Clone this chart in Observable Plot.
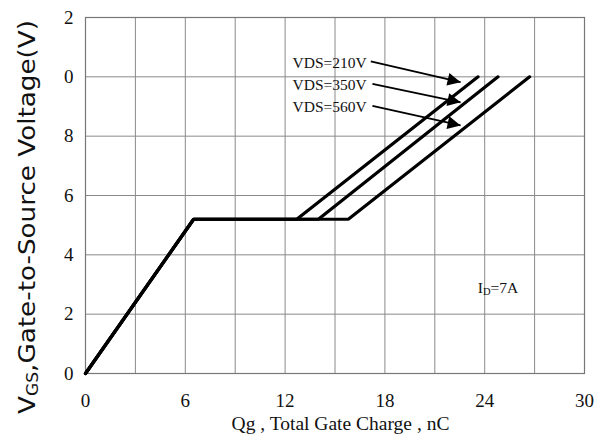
<!DOCTYPE html>
<html><head><meta charset="utf-8">
<script src="https://cdn.jsdelivr.net/npm/d3@7"></script>
<script src="https://cdn.jsdelivr.net/npm/@observablehq/plot@0.6"></script>
<style>body{margin:0;background:#fff}</style>
</head><body><div id="chart"></div>
<script>
// Data
const vdsLabels = ["VDS=210V", "VDS=350V", "VDS=560V"];
const riseQ = 6.5;           // nC where plateau begins
const plateauV = 5.2;        // Miller plateau voltage
const plateauEndQ = [12.7, 14.0, 15.8];
const endQ = [23.6, 24.8, 26.7];
const endV = 10;
const xTicks = [0, 6, 12, 18, 24, 30];
const xGrid = [0, 3, 6, 9, 12, 15, 18, 21, 24, 27, 30];
const yTicks = [0, 2, 4, 6, 8, 10, 12];
const yTickLabels = ["0", "2", "4", "6", "8", "0", "2"];
const labelX = 12.45;
const labelY = [10.45, 9.71, 8.97];
const arrowX1 = [17.15, 17.25, 17.25];
const arrowY1 = [10.52, 9.76, 9.02];
const arrowX2 = [22.55, 22.55, 22.55];
const arrowY2 = [9.82, 9.14, 8.36];
const idLabel = {x: 24.83, y: 2.70};

const curves = vdsLabels.flatMap((s, i) => [
  {s, q: 0, v: 0},
  {s, q: riseQ, v: plateauV},
  {s, q: plateauEndQ[i], v: plateauV},
  {s, q: endQ[i], v: endV}
]);
const arrows = vdsLabels.map((s, i) => ({s, x1: arrowX1[i], y1: arrowY1[i], x2: arrowX2[i], y2: arrowY2[i]}));
const labels = vdsLabels.map((s, i) => ({s, x: labelX, y: labelY[i]}));

const serif = "'Liberation Serif', 'Times New Roman', serif";
const grid = "#8a8a8a";

const plot = Plot.plot({
  width: 606, height: 437,
  marginLeft: 85, marginRight: 22, marginTop: 17, marginBottom: 64,
  style: {fontFamily: serif, background: "#fff", color: "#111"},
  x: {domain: [0, 30], axis: null},
  y: {domain: [0, 12], axis: null},
  marks: [
    Plot.gridX(xGrid, {stroke: grid, strokeOpacity: 1, strokeWidth: 1}),
    Plot.gridY(yTicks, {stroke: grid, strokeOpacity: 1, strokeWidth: 1}),
    Plot.frame({stroke: "#777", strokeWidth: 1.2}),
    Plot.text(xTicks, {x: (d) => d, text: (d) => String(d), frameAnchor: "bottom", lineAnchor: "middle",
      dy: 27, fontSize: 19, fontFamily: serif, fill: "#111"}),
    Plot.text(yTicks, {y: (d) => d, text: (d, i) => yTickLabels[i], frameAnchor: "left", textAnchor: "end",
      lineAnchor: "middle", dx: -12, fontSize: 19, fontFamily: serif, fill: "#111"}),
    Plot.line(curves, {x: "q", y: "v", z: "s", stroke: "#000", strokeWidth: 3.2, strokeLinejoin: "miter"}),
    Plot.link(arrows, {x1: "x1", y1: "y1", x2: "x2", y2: "y2", stroke: "#000", strokeWidth: 1.8}),
    Plot.text(labels, {x: "x", y: "y", text: "s", textAnchor: "start", fontSize: 15.5, fill: "#111", fontFamily: serif})
  ]
});

const svg = d3.select(plot);
const sx = plot.scale("x"), sy = plot.scale("y");

// filled triangular arrowheads
const defs = svg.insert("defs", ":first-child");
defs.append("marker")
  .attr("id", "ahead").attr("markerUnits", "userSpaceOnUse")
  .attr("viewBox", "-14 -7 15 14").attr("markerWidth", 15).attr("markerHeight", 14)
  .attr("refX", 0).attr("refY", 0).attr("orient", "auto")
  .append("path").attr("d", "M0,0L-13,-6.5L-13,6.5Z").attr("fill", "#000");
svg.selectAll('g[aria-label="link"] path').attr("marker-end", "url(#ahead)");

// I_D label with subscript
const idt = svg.append("text")
  .attr("x", sx.apply(idLabel.x)).attr("y", sy.apply(idLabel.y))
  .attr("font-family", serif).attr("font-size", 15.5).attr("fill", "#111");
idt.append("tspan").text("I");
idt.append("tspan").attr("font-size", 10.5).attr("dy", 2.5).text("D");
idt.append("tspan").attr("dy", -2.5).text("=7A");

// X axis title
svg.append("text")
  .attr("x", (sx.range[0] + sx.range[1]) / 2 + 6).attr("y", 430)
  .attr("text-anchor", "middle")
  .attr("font-family", serif).attr("font-size", 19.5).attr("fill", "#111")
  .text("Qg , Total Gate Charge , nC");

// Y axis title with subscript
const yt = svg.append("text")
  .attr("transform", "translate(35,217) rotate(-90) scale(1.14,1)")
  .attr("text-anchor", "middle")
  .attr("font-family", "'DejaVu Sans', Verdana, sans-serif").attr("font-size", 23).attr("fill", "#111");
yt.append("tspan").text("V");
yt.append("tspan").attr("font-size", 15).attr("dy", 3).text("GS");
yt.append("tspan").attr("dy", -3).text(",Gate-to-Source Voltage(V)");

document.getElementById("chart").appendChild(plot);
</script>
</body></html>
